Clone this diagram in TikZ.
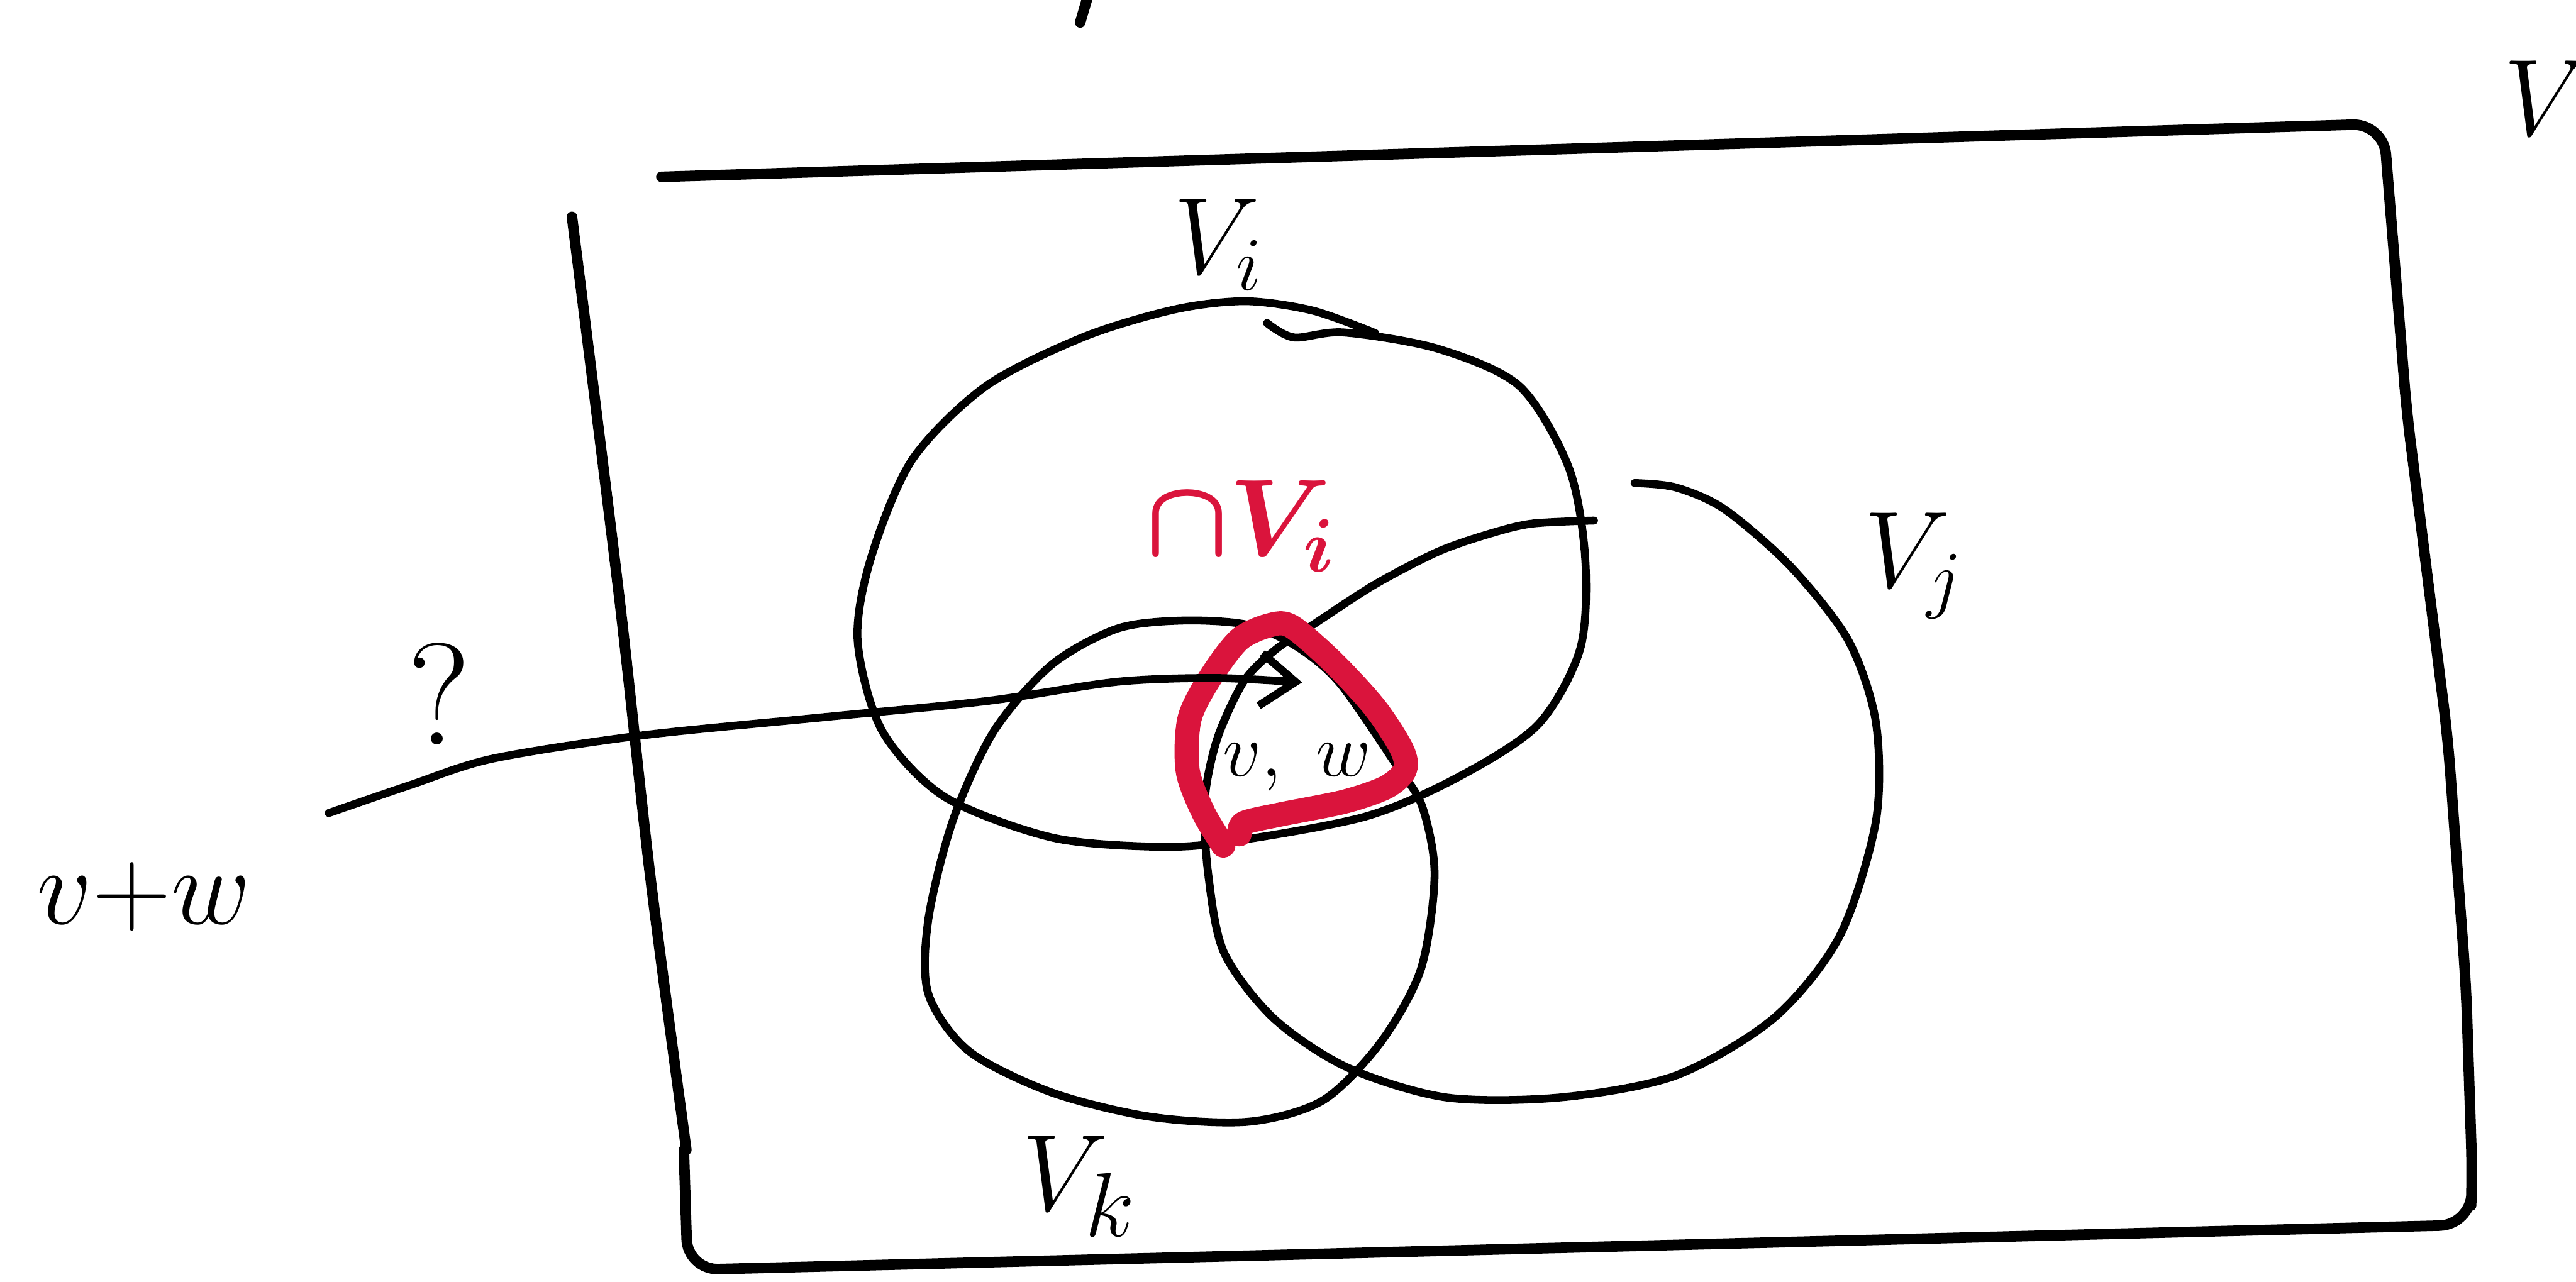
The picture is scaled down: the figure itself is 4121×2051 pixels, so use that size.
\documentclass[tikz,border=0pt]{standalone}
\usepackage{amsmath,amssymb}
\usepackage{xcolor}
\usepackage{tikz}
\usetikzlibrary{arrows.meta}

\definecolor{markred}{RGB}{218,20,60}
\tikzset{
  frame/.style={line width=2.4pt,line cap=round,line join=round},
  setline/.style={line width=1.8pt,line cap=round,line join=round},
  hilite/.style={markred,line width=5.5pt,line cap=round,line join=round},
  lbl/.style={inner sep=0pt,font=\fontsize{24}{28}\selectfont},
}

\begin{document}
\begin{tikzpicture}[x=0.005cm,y=-0.005cm,>=Latex]
  \useasboundingbox (0,0) rectangle (4121,2051);

  % ambient space, hand drawn
  \draw[frame] plot[smooth] coordinates {(915,347) (990,950) (1040,1400) (1098,1840)};
  \draw[frame,rounded corners=7pt]
    (1094,1840) -- (1100,2032) -- (3952,1960) -- (3955,1880) -- (3945,1577)
    -- (3916,1183) -- (3850,657) -- (3813,198) -- (1058,283);
  \draw[frame] (1740,-5) -- (1728,36);
  \node[lbl,font=\fontsize{35}{40}\selectfont] (V) at (4075,157) {$V$};

  % the three subspaces
  \draw[setline] plot[smooth] coordinates {
      (2027,517) (2070,540) (2150,532) (2300,558) (2431,618) (2510,749)
      (2536,894) (2528,1038) (2460,1160) (2330,1245) (2183,1307) (1967,1347)
      (1850,1355) (1682,1340) (1511,1275) (1411,1169) (1372,1025) (1393,894)
      (1459,736) (1577,618) (1734,539) (1880,495) (1993,482) (2100,497) (2200,533)
    };
  \draw[setline] plot[smooth] coordinates {
      (2550,833) (2450,838) (2380,855) (2300,883) (2200,935) (2100,1000)
      (2040,1040) (1990,1090) (1947,1183) (1927,1283) (1933,1400) (1958,1524)
      (2037,1629) (2155,1708) (2313,1756) (2497,1756) (2681,1721) (2838,1629)
      (2943,1498) (3001,1314) (3001,1156) (2957,1025) (2865,907) (2759,815)
      (2681,780) (2615,773)
    };
  \draw[setline] plot[smooth cycle] coordinates {
      (1997,1000) (2075,1035) (2143,1093) (2233,1223) (2275,1290) (2295,1400)
      (2273,1551) (2208,1669) (2116,1761) (1997,1795) (1840,1787) (1682,1748)
      (1550,1682) (1485,1590) (1485,1472) (1524,1314) (1590,1170) (1682,1064)
      (1787,1006) (1892,993)
    };
  \node[lbl] (Vi) at (1950,392) {$V_i$};
  \node[lbl,font=\fontsize{27}{32}\selectfont] (Vj) at (3062,905) {$V_j$};
  \node[lbl,font=\fontsize{29}{34}\selectfont] (Vk) at (1727,1898) {$V_k$};

  % intersection
  \draw[hilite] plot[smooth] coordinates {
      (1957,1353) (1925,1300) (1900,1233) (1903,1150) (1937,1083) (1983,1023)
      (2033,1000) (2067,1003) (2133,1060) (2200,1133) (2243,1200) (2247,1233)
      (2217,1260) (2150,1283) (2050,1303) (1990,1317) (1983,1335)
    };
  \node[lbl,markred,font=\fontsize{27}{32}\selectfont\boldmath] (cap) at (1985,842) {$\cap V_i$};
  \node[lbl,font=\fontsize{16}{19}\selectfont] (elts) at (2075,1228) {$v,\ w$};

  % the sum
  \node[lbl,font=\fontsize{28}{32}\selectfont] (sum) at (230,1435) {$v{+}w$};
  \node[lbl,font=\fontsize{33}{38}\selectfont] (ask) at (703,1110) {?};
  \coordinate (from) at (526,1301);
  \coordinate (into) at (2083,1092);
  \draw[setline,-{Straight Barb[length=8pt,width=12pt]}] plot[smooth] coordinates {
      (from) (657,1256) (788,1214) (1025,1177) (1314,1148) (1577,1122)
      (1787,1091) (1945,1085) (into)
    };
\end{tikzpicture}
\end{document}
